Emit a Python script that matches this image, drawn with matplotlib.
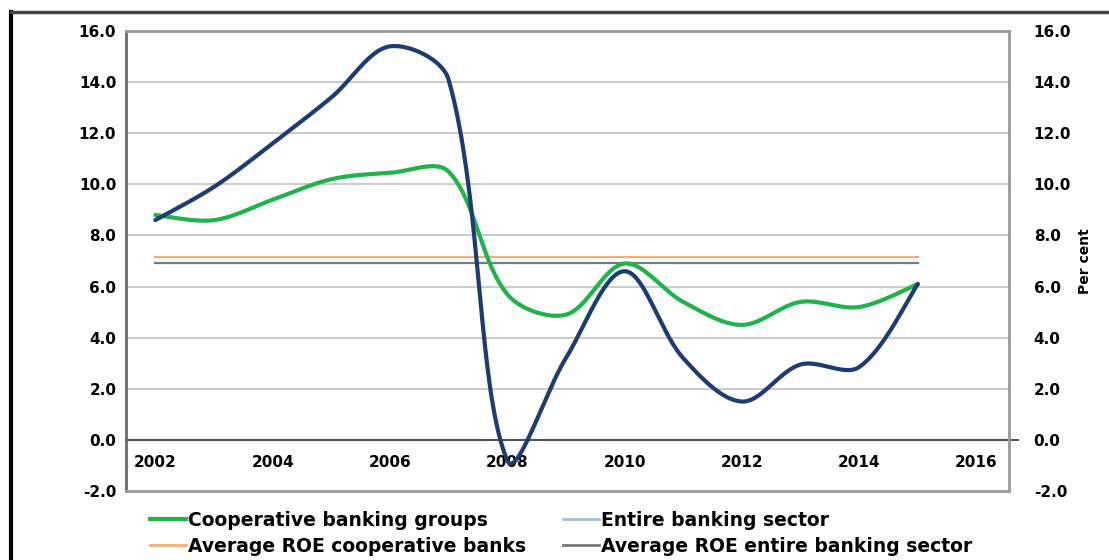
import matplotlib.pyplot as plt
import matplotlib.lines as mlines
import numpy as np

plt.rcParams['font.family'] = ['DejaVu Sans']

# 数据
years = [2002, 2003, 2004, 2005, 2006, 2007, 2008, 2009, 2010, 2011, 2012, 2013, 2014, 2015]
coop_groups = [8.8, 8.6, 9.4, 10.2, 10.45, 10.5, 5.7, 4.9, 6.9, 5.4, 4.5, 5.4, 5.2, 6.1]
entire_sector = [8.6, 9.9, 11.6, 13.4, 15.4, 14.1, -0.8, 3.2, 6.6, 3.2, 1.5, 2.95, 2.85, 6.1]
avg_coop = 7.15
avg_entire = 6.93

y_ticks = [-2, 0, 2, 4, 6, 8, 10, 12, 14, 16]
x_ticks = [2002, 2004, 2006, 2008, 2010, 2012, 2014, 2016]

W, H = 1109, 560
pos = [0.1136, 0.1232, 0.7960, 0.8214]
xlim = (2001.5, 2016.55)
ylim = (-2, 16)
sx = pos[2] * W / (xlim[1] - xlim[0])   # 每年像素
sy = pos[3] * H / (ylim[1] - ylim[0])   # 每单位像素


# 平滑曲线（类似 Excel 的平滑线，按屏幕距离加权）
def smooth(x, y, n=40):
    p = np.column_stack([np.asarray(x, float) * sx, np.asarray(y, float) * sy])
    m = len(p)
    xs, ys = [], []
    t = np.linspace(0, 1, n)[:, None]
    for i in range(m - 1):
        p0, p3 = p[i], p[i + 1]
        prev = p[i - 1] if i > 0 else p[i]
        nxt = p[i + 2] if i + 2 < m else p[i + 1]
        l0 = np.linalg.norm(p0 - prev)
        l1 = np.linalg.norm(p3 - p0)
        l2 = np.linalg.norm(nxt - p3)
        d0 = p3 - prev
        d1 = nxt - p0
        f0 = l1 / (l0 + l1) if l0 > 0 else 0.5
        f1 = l1 / (l1 + l2) if l2 > 0 else 0.5
        p1 = p0 + d0 * f0 / 3
        p2 = p3 - d1 * f1 / 3
        b = (1 - t) ** 3 * p0 + 3 * (1 - t) ** 2 * t * p1 + 3 * (1 - t) * t ** 2 * p2 + t ** 3 * p3
        xs.extend(b[:, 0] / sx)
        ys.extend(b[:, 1] / sy)
    return xs, ys


fig = plt.figure(figsize=(W / 100, H / 100), dpi=100)
ax = fig.add_axes(pos)

green = '#1fb34a'
navy = '#1c3c72'
orange = '#f6ad7b'
grey = '#7a7a7a'

for yv in y_ticks[1:]:
    ax.axhline(yv, color='#cccccc', lw=1.5, zorder=1)

ax.plot([years[0], years[-1]], [avg_coop, avg_coop], color=orange, lw=1.6, zorder=2)
ax.plot([years[0], years[-1]], [avg_entire, avg_entire], color=grey, lw=1.6, zorder=2)

gx, gy = smooth(years, coop_groups)
bx, by = smooth(years, entire_sector)
ax.plot(gx, gy, color=green, lw=3, zorder=3, solid_capstyle='round')
ax.plot(bx, by, color=navy, lw=3, zorder=4, solid_capstyle='round')

ax.set_xlim(*xlim)
ax.set_ylim(*ylim)

# x 轴在 0 处
ax.plot([xlim[0], xlim[1] + 0.15], [0, 0], color='#555555', lw=1.5, zorder=2, clip_on=False)
ax.spines['bottom'].set_position(('data', 0))
ax.spines['bottom'].set_visible(False)
ax.plot(list(xlim), [-2, -2], color='#9a9a9a', lw=2, clip_on=False, zorder=5)
for s in ['left', 'right', 'top']:
    ax.spines[s].set_color('#9a9a9a')
    ax.spines[s].set_linewidth(2)
ax.spines['left'].set_color('#6a6a6a')

ax.set_xticks(x_ticks)
ax.set_xticklabels([str(v) for v in x_ticks], fontsize=11, fontweight='bold')
ax.tick_params(axis='x', length=0, pad=11)
ax.set_yticks(y_ticks)
ax.set_yticklabels(['%.1f' % v for v in y_ticks], fontsize=11, fontweight='bold')
ax.tick_params(axis='y', length=0, pad=7)

ax2 = ax.twinx()
ax2.set_ylim(*ylim)
ax2.set_yticks(y_ticks)
ax2.set_yticklabels(['%.1f' % v for v in y_ticks], fontsize=11, fontweight='bold')
ax2.tick_params(axis='y', length=0, pad=18)
ax2.set_ylabel('Per cent', fontsize=10, fontweight='bold', labelpad=5)
for s in ax2.spines.values():
    s.set_visible(False)

handles = [
    mlines.Line2D([], [], color=green, lw=3),
    mlines.Line2D([], [], color=orange, lw=2),
    mlines.Line2D([], [], color='#a9bcd9', lw=2),
    mlines.Line2D([], [], color=grey, lw=2),
]
labels = ['Cooperative banking groups', 'Average ROE cooperative banks',
          'Entire banking sector', 'Average ROE entire banking sector']
fig.legend(handles, labels, ncol=2, loc='upper left', bbox_to_anchor=(0.1353, 0.088),
           frameon=False, prop={'size': 13.5, 'weight': 'bold'},
           handlelength=1.9, handletextpad=0.1, columnspacing=2.0, labelspacing=0.39,
           borderaxespad=0, borderpad=0)

# 外框
fig.add_artist(mlines.Line2D([0.0095, 0.0095], [0, 0.978], color='black', lw=3))
fig.add_artist(mlines.Line2D([0.0095, 1.0], [0.978, 0.978], color='#444444', lw=2.5))

plt.savefig('out.png', dpi=100)
